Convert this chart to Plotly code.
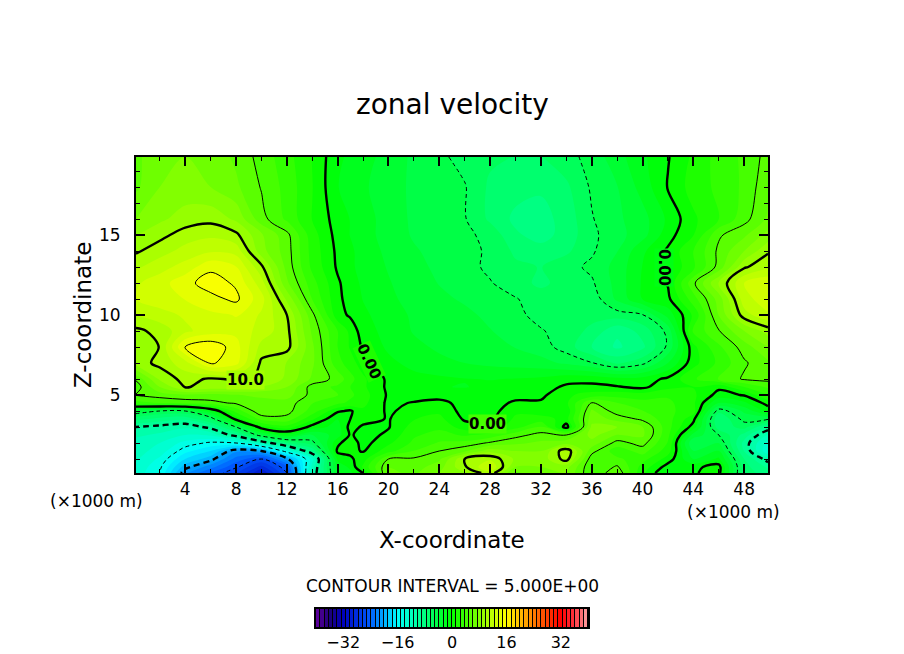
import plotly.graph_objects as go

# grid of the section (x and z in 1000 m)
x_km = [0.125, 2, 4, 6, 8, 10, 12, 14, 16, 17, 18, 20, 22, 24, 26, 28, 30, 32, 34, 36, 38, 40, 42, 44, 46, 48, 49.875]
z_km = [0.125, 0.5, 1, 1.5, 2, 2.5, 3, 3.5, 4, 4.5, 5, 5.5, 6, 7, 8, 9, 10, 11, 12, 13, 14, 15, 16, 18, 19.875]

# zonal velocity, one row for each z
u_z00 = [-13, -15, -21, -24, -26, -30, -25, -11.5, -2.5, -1.5, 0, 6.5, 6, 7.5, 8.5, 10.8, 6, 7, 7.5, 3.8, 6, 1.5, -1.5, -0.1, 0.4, -7, -8]
u_z01 = [-12.8, -14.7, -19.5, -22, -24.8, -28, -24, -12, -2, -1, 1.5, 6.2, 5.6, 7, 9.8, 12.5, 7.5, 7.5, 8, 3.8, 5.2, 2, -0.6, -0.3, 0.5, -7, -9]
u_z02 = [-12.3, -14, -17.5, -19.5, -23, -25, -20.5, -13, -1, -0.2, 0.6, 5, 5.2, 6, 10, 11, 8.5, 8, 10.6, 4.2, 4, 3, 0.7, -2.5, -1, -7.5, -10.7]
u_z03 = [-12, -13, -15.8, -17.5, -21, -20, -14, -8.5, 0.3, 0.3, -0.1, 2, 3.8, 5, 6, 8.3, 7.5, 7.5, 11, 5.5, 3, 4.3, 1.8, -3.7, -2.5, -8.8, -13.5]
u_z04 = [-11.8, -12.5, -14.2, -15.3, -15, -11.5, -7.5, -5.5, -0.3, 0.8, -0.5, 1, 2.8, 3.9, 4.2, 5.2, 6, 6.5, 7, 7, 4.5, 5.5, 2.4, -5, -3.8, -9.2, -13]
u_z05 = [-11, -11.5, -12.5, -12.2, -9.2, -4, -1.5, -3.8, -1.8, 0.2, -0.6, 0.3, 2.3, 3, 2.3, 3, 4.5, 5.5, 5, 8, 6.2, 6.5, 2.8, -3, -5, -8, -11.5]
u_z06 = [-10, -10.5, -11, -9.5, -5, 0.8, 2, -0.5, -1.8, 0.5, -0.2, -0.1, 1.8, 2.2, 0.6, 0.5, 2, 3.8, -0.6, 7.8, 7.5, 6.3, 3, -0.6, -7, -5.8, -9]
u_z07 = [-7, -8, -8.5, -6, 0.5, 4.2, 4.5, 1.5, -1.2, 0, 0.5, -0.1, 1.2, 1.6, -0.2, -0.3, 1.5, 1.8, 0.8, 7, 5.8, 4.7, 3, 0.4, -7.5, -4.5, -4.8]
u_z08 = [-4, -5, -5, -1.5, 3, 6, 5.5, 3.2, 0.2, -0.2, 1, -0.2, 0.5, 1, -0.5, -0.6, 1, 0.5, 0.3, 6.5, 4.3, 3.8, 2.8, 1.8, -5.8, -3.5, -0.8]
u_z09 = [3.3, 3.8, 4.2, 4.6, 5.2, 5.8, 5.7, 3.8, 2.8, 2.2, 1.6, -0.3, 0.1, 0.5, -0.6, -0.5, 0.2, 0.2, 1, 5.1, 3.8, 3, 2.8, 1.5, -2.5, -1.5, 0.5]
u_z10 = [5.1, 5.6, 6, 5.8, 6.2, 6.5, 6.8, 4.5, 3.8, 2.8, 1.8, -0.2, -0.6, -0.7, -0.8, -0.4, -0.4, -0.3, 1, 1.8, 2, 1.8, 2.3, 1.5, -0.5, 0.1, 2.5]
u_z11 = [4.3, 7.5, 10.1, 9.6, 9.3, 8.7, 7.5, 4.4, 3.5, 2.5, 1.5, -0.3, -0.9, -1.2, -1.3, -1, -0.8, -0.5, 0.2, 0.3, 0.1, -0.3, 0.9, 1.2, 0.3, 2.5, 4]
u_z12 = [5.2, 9, 10.5, 9.8, 10.2, 9.9, 8.5, 6, 4.5, 3, 1.5, -0.3, -0.8, -1, -1.2, -1.3, -1.2, -1, -0.4, -0.4, -0.8, -0.7, 0.3, 2.3, 3.8, 5.2, 5.4]
u_z13 = [9.3, 10.4, 12, 15.2, 14.2, 9.7, 8.7, 6.5, 3, 1.8, 0.6, -0.9, -1.7, -2.2, -2.5, -2.8, -3, -3.3, -4, -4.9, -6.5, -5.4, -2.5, 0.8, 2.8, 4.8, 6]
u_z14 = [9, 10.05, 15.2, 16, 14.3, 10.8, 10.5, 6.5, 2.5, 1.1, -0.2, -1.5, -2.2, -2.7, -3, -3.3, -3.8, -4.4, -5.6, -7.5, -9, -7.8, -4.7, 0.9, 3.5, 5.6, 7.5]
u_z15 = [9.7, 10.4, 12.2, 13.2, 13.4, 12, 10.4, 6, 2.5, 0.9, -0.7, -1.7, -2.6, -3, -3.3, -3.7, -4.2, -4.9, -5.5, -6.6, -8.5, -7, -4.6, 2.8, 4.9, 7.5, 9.3]
u_z16 = [11.3, 12, 12.7, 13.5, 13.8, 12.3, 10, 5.4, 0.5, -0.2, -1, -1.9, -2.7, -3.2, -3.5, -4, -4.7, -5.4, -5.7, -5.8, -5.6, -5.1, -2, 1.5, 6.3, 10.7, 12.3]
u_z17 = [12.5, 13.2, 13.8, 14.6, 15.3, 13, 8.5, 3.7, 0.3, -0.5, -1.3, -2.2, -3, -3.5, -3.9, -4.4, -4.9, -5.7, -6, -5.8, -3.5, -1.2, -0.3, 3.2, 6.8, 12, 13.3]
u_z18 = [12.3, 13.2, 14.6, 15.6, 14.8, 11.8, 6.5, 3, 0.2, -0.7, -1.5, -2.4, -3.2, -3.8, -4.3, -4.9, -5.8, -6.5, -5.8, -5.2, -3.3, -1.1, 0.1, 4.7, 8.8, 12.5, 13.5]
u_z19 = [11, 12, 13, 14.7, 13.8, 10.3, 5.8, 2.2, -0.2, -1, -1.7, -2.6, -3.4, -4, -4.5, -5.3, -6, -6.3, -5.5, -4.7, -3.3, -1.2, 0.1, 2.2, 5.5, 9.8, 11]
u_z20 = [9.8, 10.7, 11.7, 12.3, 12, 8, 5.6, 2, -0.3, -1, -1.8, -2.8, -3.6, -4.2, -4.6, -5.2, -6.5, -7, -6.5, -5.2, -3.8, -1.5, 0.2, 2.5, 5.3, 7.5, 9.8]
u_z21 = [8.7, 9.6, 10.6, 11, 10.3, 7.7, 5.4, 1.8, -0.5, -1.3, -2, -3, -3.9, -4.3, -4.7, -5.4, -7.3, -8, -7, -5.3, -4.2, -3, -0.5, 1.2, 4.8, 6, 8]
u_z22 = [7.5, 8.5, 9.3, 9.6, 8.5, 5.5, 3.5, 1.2, -0.6, -1.3, -2, -3, -4, -4.5, -4.9, -6.5, -7.8, -8, -7, -5.1, -4, -3, -1, 1, 2.5, 4.5, 6.5]
u_z23 = [6, 7.5, 8, 7.5, 6.5, 4.9, 3.3, 1.3, -1.2, -1.8, -2.3, -3.2, -4, -4.5, -4.9, -6.5, -7, -7.3, -6.5, -4.8, -3.8, -2, 0.1, 1.8, 2.8, 4, 6]
u_z24 = [6, 7, 7.5, 7, 6, 4.5, 3, 1.2, -1, -1.5, -2, -3, -4, -4.7, -5.5, -6, -6.3, -6.3, -5.5, -4.5, -3, -1.5, -0.1, 1.5, 3, 4, 5.5]

u_rows = [u_z00, u_z01, u_z02, u_z03, u_z04, u_z05, u_z06, u_z07, u_z08, u_z09, u_z10, u_z11, u_z12,
          u_z13, u_z14, u_z15, u_z16, u_z17, u_z18, u_z19, u_z20, u_z21, u_z22, u_z23, u_z24]

# contour levels and how they are drawn
line_levels = [-25, -20, -15, -10, -5, 0, 5, 10, 15]
line_widths = [1, 2.4, 1, 2.4, 1, 2.4, 1, 2.4, 1]
line_dashes = ['4px,3px', '6px,4px', '4px,3px', '6px,4px', '4px,3px', 'solid', 'solid', 'solid', 'solid']

# colour table
color_values = [-40, -36, -32, -24, -20, -16, -8, 0, 8, 16, 24, 32, 36, 40]
color_names = ['rgb(100,0,160)', 'rgb(30,0,120)', 'rgb(0,0,190)', 'rgb(0,90,255)', 'rgb(0,170,255)', 'rgb(0,255,255)',
               'rgb(0,255,128)', 'rgb(0,255,0)', 'rgb(128,255,0)', 'rgb(255,255,0)', 'rgb(255,128,0)', 'rgb(255,0,0)',
               'rgb(255,50,60)', 'rgb(255,165,165)']
bar_step = 1.25
bar_levels = [-40 + bar_step * (i + 0.5) for i in range(64)]
bar_ticks = [-32, -16, 0, 16, 32]

W, H = 904, 654
FONT = 'DejaVu Sans'
PAGE_MARGIN = 8  # the page body keeps its default margin


def frac_x(px):
    return (px - PAGE_MARGIN) / W


def frac_y(py):
    return 1 - (py - PAGE_MARGIN) / H


def add_text(fig, px, py, text, size, angle=0, bg=None, weight='normal'):
    fig.add_annotation(x=frac_x(px), y=frac_y(py), xref='paper', yref='paper', text=text, showarrow=False,
                       textangle=angle, xanchor='center', yanchor='middle', bgcolor=bg, borderpad=0,
                       font=dict(family=FONT, size=size, color='black', weight=weight))


def main():
    colorscale = [[(v + 40) / 80, c] for v, c in zip(color_values, color_names)]
    fig = go.Figure()

    # shaded field
    fig.add_trace(go.Contour(x=x_km, y=z_km, z=u_rows, colorscale=colorscale, zmin=-40, zmax=40, showscale=False,
                             autocontour=False, contours=dict(coloring='fill', start=-40, end=40, size=bar_step),
                             line=dict(width=0)))

    # contour lines, one trace per level so each gets its own weight
    for level, width, dash in zip(line_levels, line_widths, line_dashes):
        fig.add_trace(go.Contour(x=x_km, y=z_km, z=u_rows, showscale=False, autocontour=False,
                                 contours=dict(coloring='none', start=level, end=level, size=5),
                                 line=dict(color='black', width=width, dash=dash)))

    # colour bar
    fig.add_trace(go.Heatmap(x=bar_levels, y=[0], z=[bar_levels], colorscale=colorscale, zmin=-40, zmax=40,
                             showscale=False, xgap=1, xaxis='x2', yaxis='y2'))

    axis_style = dict(showline=True, linecolor='black', linewidth=2, mirror='allticks', ticks='inside',
                      showgrid=False, zeroline=False, tickcolor='black', tickwidth=2, ticklen=9,
                      tickfont=dict(family=FONT, size=17, color='black'))
    fig.update_layout(
        width=W, height=H, autosize=False, margin=dict(l=0, r=0, t=0, b=0),
        paper_bgcolor='white', plot_bgcolor='black', showlegend=False,
        xaxis=dict(domain=[frac_x(136), frac_x(768)], range=[0.125, 49.875], anchor='y', tick0=0, dtick=4,
                   ticklabelstandoff=0, minor=dict(dtick=2, ticks='inside', ticklen=4, tickwidth=1, tickcolor='black', showgrid=False),
                   **axis_style),
        yaxis=dict(domain=[frac_y(473), frac_y(157)], range=[0.125, 19.875], anchor='x', tick0=0, dtick=5,
                   ticklabelstandoff=10, minor=dict(dtick=1, ticks='inside', ticklen=4, tickwidth=1, tickcolor='black', showgrid=False),
                   **axis_style),
        xaxis2=dict(domain=[frac_x(316), frac_x(588)], range=[-40, 40], anchor='y2', tickvals=bar_ticks,
                    showline=True, linecolor='black', linewidth=2, mirror=True, ticks='', showgrid=False, zeroline=False,
                    tickfont=dict(family=FONT, size=16, color='black')),
        yaxis2=dict(domain=[frac_y(627), frac_y(609)], range=[-0.5, 0.5], anchor='x2', showticklabels=False, ticks='',
                    showline=True, linecolor='black', linewidth=2, mirror=True, showgrid=False, zeroline=False),
    )

    add_text(fig, 452, 104, 'zonal velocity', 28)
    add_text(fig, 83, 315, 'Z-coordinate', 23, angle=-90)
    add_text(fig, 452, 540, 'X-coordinate', 23)
    add_text(fig, 96, 501, '(×1000 m)', 17)
    add_text(fig, 733, 512, '(×1000 m)', 17)
    add_text(fig, 452, 586, 'CONTOUR INTERVAL = 5.000E+00', 17)

    # labels sitting on the contour lines
    add_text(fig, 245, 380, '10.0', 15, bg='rgb(165,255,0)', weight='bold')
    add_text(fig, 487, 424, '0.00', 15, bg='rgb(70,255,0)', weight='bold')
    add_text(fig, 664, 267, '0.00', 15, bg='rgb(0,255,20)', angle=90, weight='bold')
    add_text(fig, 369, 361, '0.00', 15, bg='rgb(30,255,0)', angle=65, weight='bold')

    fig.write_html("out.html")


if __name__ == "__main__":
    main()
